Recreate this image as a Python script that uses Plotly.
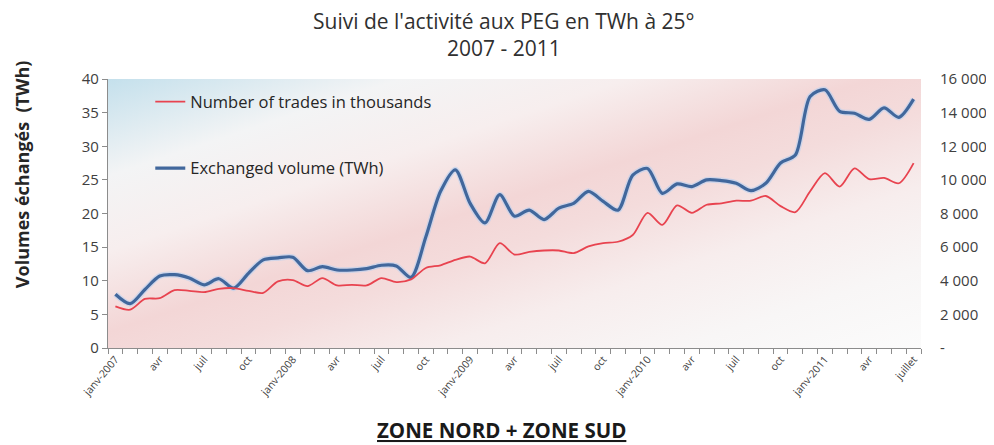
import base64
import plotly.graph_objects as go

# ---- data ----
months = list(range(55))  # janv-2007 .. juillet-2011, monthly
volume_twh = [8.0, 6.6, 8.7, 10.7, 10.9, 10.4, 9.4, 10.3, 8.9, 11.1, 13.1, 13.4,
              13.5, 11.5, 12.1, 11.6, 11.6, 11.8, 12.3, 12.2, 10.5, 16.5, 23.3, 26.5,
              21.5, 18.6, 22.8, 19.6, 20.5, 19.1, 20.8, 21.5, 23.3, 21.8, 20.5, 25.7,
              26.7, 23.0, 24.4, 24.0, 25.0, 24.9, 24.5, 23.4, 24.5, 27.5, 28.7, 37.4,
              38.4, 35.2, 34.9, 34.0, 35.7, 34.3, 37.0]
trades = [2480, 2280, 2920, 2960, 3440, 3400, 3320, 3520, 3560, 3400, 3280, 3960,
          4040, 3680, 4160, 3720, 3760, 3720, 4160, 3920, 4080, 4760, 4920, 5240,
          5440, 5040, 6240, 5560, 5720, 5800, 5800, 5640, 6040, 6240, 6320, 6720,
          8040, 7320, 8480, 8040, 8520, 8600, 8760, 8760, 9040, 8440, 8080, 9320,
          10400, 9600, 10680, 10040, 10120, 9800, 11000]
x_tickvals = list(range(0, 55, 3))
x_ticktext = ["janv-2007", "avr", "juil", "oct", "janv-2008", "avr", "juil", "oct",
              "janv-2009", "avr", "juil", "oct", "janv-2010", "avr", "juil", "oct",
              "janv-2011", "avr", "juillet"]
y_left_ticks = [0, 5, 10, 15, 20, 25, 30, 35, 40]
y_right_ticks = [0, 2000, 4000, 6000, 8000, 10000, 12000, 14000, 16000]
y_right_text = ["-", "2 000", "4 000", "6 000", "8 000", "10 000", "12 000", "14 000", "16 000"]
title_lines = ["Suivi de l'activité aux PEG en TWh à 25°", "2007 - 2011"]
y_title = "Volumes échangés  (TWh)"
footer = "ZONE NORD + ZONE SUD"

FONT = "Open Sans"
TXT = "#404040"
BLUE = "#41679c"
RED = "#e8434f"

# background gradient for plot area (style only)
svg = """<svg xmlns='http://www.w3.org/2000/svg' width='800' height='270' preserveAspectRatio='none' viewBox='0 0 800 270'>
<defs><linearGradient id='g' x1='0' y1='0' x2='1' y2='1'>
<stop offset='0' stop-color='#c4e0ec'/>
<stop offset='0.18' stop-color='#f3f4f5'/>
<stop offset='0.32' stop-color='#f7eeee'/>
<stop offset='0.47' stop-color='#f3d6d6'/>
<stop offset='0.56' stop-color='#f4dcdc'/>
<stop offset='0.7' stop-color='#f7eded'/>
<stop offset='0.85' stop-color='#f8f6f6'/>
<stop offset='1' stop-color='#fbfbfb'/>
</linearGradient></defs>
<rect width='800' height='270' fill='url(#g)'/></svg>"""
bg_uri = "data:image/svg+xml;base64," + base64.b64encode(svg.encode()).decode()

fig = go.Figure()

# soft glow under blue line
fig.add_trace(go.Scatter(x=months, y=volume_twh, mode="lines", yaxis="y",
                         line=dict(color="rgba(185,208,240,0.6)", width=6,
                                   shape="spline", smoothing=0.8),
                         showlegend=False, hoverinfo="skip"))
# red series (right axis)
fig.add_trace(go.Scatter(x=months, y=trades, mode="lines", yaxis="y2",
                         name="Number of trades in thousands", legendgroup="a",
                         line=dict(color=RED, width=1.8, shape="spline", smoothing=0.8)))
# blue series (left axis)
fig.add_trace(go.Scatter(x=months, y=volume_twh, mode="lines", yaxis="y",
                         name="Exchanged volume (TWh)", legendgroup="b",
                         line=dict(color=BLUE, width=3.2, shape="spline", smoothing=0.8)))

fig.update_layout(
    width=994, height=445,
    margin=dict(l=100, r=81, t=71, b=105, autoexpand=False),
    paper_bgcolor="white",
    plot_bgcolor="rgba(0,0,0,0)",
    font=dict(family=FONT, color=TXT),
    images=[dict(source=bg_uri, xref="paper", yref="paper", x=0, y=1,
                 sizex=1, sizey=1, xanchor="left", yanchor="top",
                 sizing="stretch", layer="below")],
    xaxis=dict(range=[-0.5, 54.5], tickmode="array", tickvals=x_tickvals,
               ticktext=x_ticktext, tickangle=-50, ticks="", automargin=False,
               tickfont=dict(size=10.5, color=TXT), showgrid=False, zeroline=False,
               showline=True, linecolor="#8c8c8c", linewidth=1.2,
               minor=dict(tickmode="linear", tick0=-0.5, dtick=1, ticks="outside",
                          ticklen=5, tickcolor="#8c8c8c", tickwidth=1, showgrid=False),
               fixedrange=True),
    yaxis=dict(range=[0, 40], tickmode="array", tickvals=y_left_ticks,
               ticks="outside", ticklen=5, tickcolor="#8c8c8c", automargin=False,
               showline=True, linecolor="#8c8c8c", linewidth=1.2,
               showgrid=False, zeroline=False,
               tickfont=dict(size=15, color=TXT)),
    yaxis2=dict(range=[0, 16000], overlaying="y", side="right", automargin=False,
                tickmode="array", tickvals=y_right_ticks, ticktext=y_right_text,
                showline=False, showgrid=False, zeroline=False, ticks="",
                ticklabelstandoff=18,
                tickfont=dict(size=15, color=TXT)),
    legend=dict(x=0.052, y=0.98, xanchor="left", yanchor="top",
                bgcolor="rgba(0,0,0,0)", traceorder="grouped",
                tracegroupgap=42, font=dict(size=16.5, color="#262626")),
    annotations=[
        dict(text=title_lines[0], xref="paper", yref="paper", x=0.487, y=1.215,
             xanchor="center", yanchor="middle", showarrow=False,
             font=dict(size=21, color="#303030")),
        dict(text=title_lines[1], xref="paper", yref="paper", x=0.487, y=1.115,
             xanchor="center", yanchor="middle", showarrow=False,
             font=dict(size=21, color="#303030")),
        dict(text="<b>" + y_title + "</b>", xref="paper", yref="paper",
             x=-0.105, y=0.645, xanchor="center", yanchor="middle",
             textangle=-90, showarrow=False,
             font=dict(size=18, color="#262626")),
        dict(text="<b><u>" + footer + "</u></b>", xref="paper",
             yref="paper", x=0.484, y=-0.303, xanchor="center",
             yanchor="middle", showarrow=False,
             font=dict(size=20.5, color="#1a1a1a")),
    ],
)

fig.write_html("out.html")
